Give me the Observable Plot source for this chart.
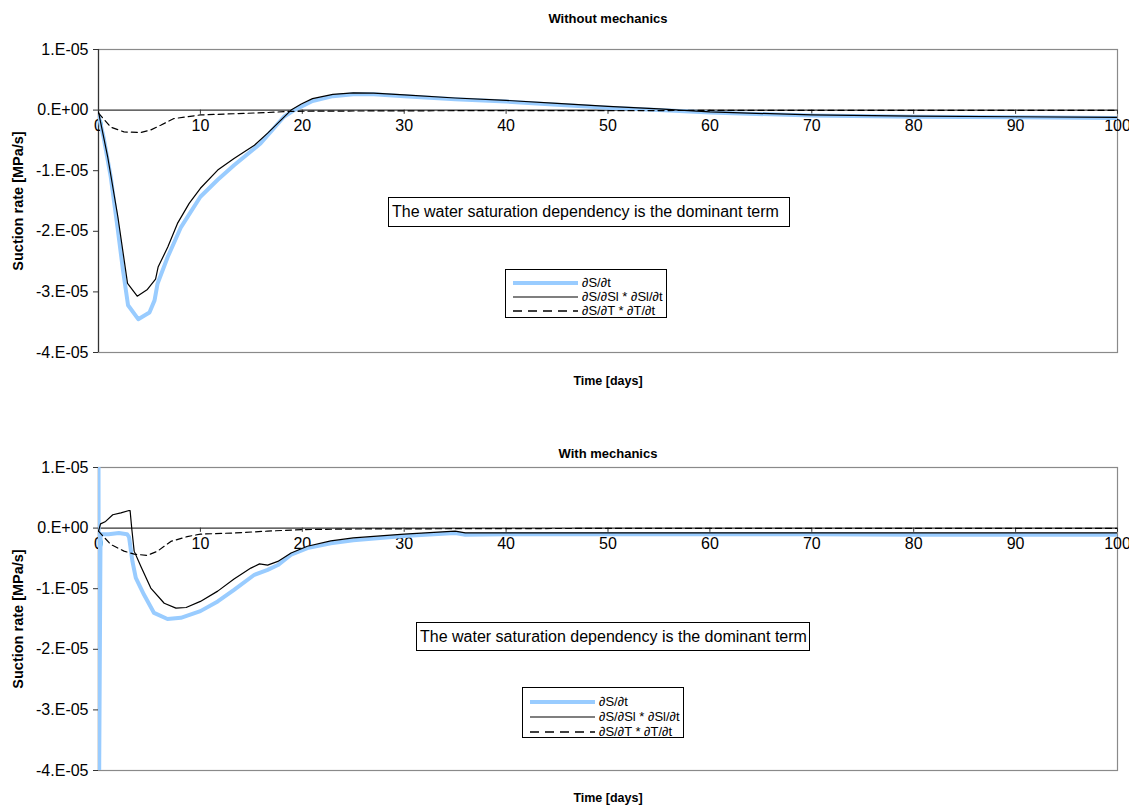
<!DOCTYPE html>
<html>
<head>
<meta charset="utf-8">
<script src="https://cdn.jsdelivr.net/npm/d3@7"></script>
<script src="https://cdn.jsdelivr.net/npm/@observablehq/plot@0.6"></script>
<style>
  html, body { margin: 0; padding: 0; background: #fff; overflow: hidden; }
  #wrap { position: relative; width: 1129px; height: 807px; overflow: hidden; font-family: "Liberation Sans", Arial, sans-serif; }
  #wrap svg { display: block; }
  .note { position: absolute; box-sizing: border-box; border: 1px solid #000; background: #fff;
          font-size: 16px; line-height: 18px; padding: 5px 0 0 3px; white-space: nowrap; }
  .legend { position: absolute; box-sizing: border-box; border: 1px solid #000; background: #fff;
            font-size: 13px; padding: 6px 0 0 6px; }
  .legend div { line-height: 14px; display: flex; align-items: center; white-space: nowrap; }
  .legend svg { display: inline-block; margin-right: 4px; }
</style>
</head>
<body>
<div id="wrap"></div>
<script>
// Suction rate terms, in units of 1E-05 MPa/s, against time in days.

// --- Without mechanics ---
const topDays_dSdt = [0, 0.5, 1.2, 1.9, 2.4, 2.9, 3.9, 5.0, 5.5, 5.8, 6.8, 8.1, 10, 11.7, 13.3, 15.9, 18.2, 19.2, 21, 23, 25, 27, 30, 35, 40, 45, 50, 55, 60, 70, 80, 90, 100];
const topVals_dSdt = [-0.08, -0.45, -1.1, -1.98, -2.64, -3.22, -3.45, -3.34, -3.14, -2.86, -2.42, -1.93, -1.43, -1.15, -0.91, -0.55, -0.11, 0.0, 0.15, 0.23, 0.26, 0.26, 0.23, 0.18, 0.14, 0.09, 0.04, 0.0, -0.04, -0.09, -0.11, -0.12, -0.13];

const topDays_sat = [0, 0.9, 1.9, 2.85, 3.8, 4.8, 5.6, 5.85, 6.8, 7.75, 8.9, 10, 11.7, 13.3, 15.3, 16.6, 17.9, 18.9, 19.9, 21, 23, 25, 27, 30, 35, 40, 45, 50, 55, 60, 70, 80, 90, 100];
const topVals_sat = [-0.03, -0.77, -1.76, -2.86, -3.07, -2.96, -2.79, -2.59, -2.26, -1.87, -1.54, -1.29, -0.99, -0.80, -0.58, -0.38, -0.165, 0.0, 0.1, 0.19, 0.26, 0.285, 0.28, 0.25, 0.2, 0.16, 0.11, 0.06, 0.02, -0.03, -0.08, -0.1, -0.11, -0.12];

const topDays_temp = [0, 1.2, 2.5, 4.15, 5.1, 6.1, 7.4, 10, 13.3, 16.6, 18.9, 25, 35, 50, 60, 80, 100];
const topVals_temp = [-0.05, -0.28, -0.36, -0.37, -0.33, -0.25, -0.14, -0.08, -0.06, -0.04, -0.02, -0.015, -0.01, -0.01, -0.005, -0.005, -0.005];

// --- With mechanics ---
const botDays_dSdt = [0, 0.05, 0.2, 1.0, 2.0, 2.8, 3.0, 3.33, 3.66, 4.47, 5.45, 6.77, 8.08, 10, 11.7, 13.3, 15.3, 16.6, 17.6, 18.9, 20.5, 22.8, 25, 30, 35, 36, 40, 50, 60, 70, 80, 90, 100];
const botVals_dSdt = [1.2, -4.5, -0.1, -0.1, -0.08, -0.1, -0.15, -0.55, -0.82, -1.1, -1.40, -1.50, -1.48, -1.37, -1.21, -1.02, -0.77, -0.69, -0.61, -0.44, -0.33, -0.25, -0.2, -0.13, -0.08, -0.11, -0.1, -0.1, -0.1, -0.1, -0.11, -0.11, -0.11];

const botDays_sat = [0, 0.2, 0.7, 1.4, 2.2, 3.0, 3.1, 3.27, 3.5, 4.15, 5.13, 6.45, 7.6, 8.6, 10, 11.7, 13.3, 14.95, 15.8, 16.6, 17.6, 18.9, 20.5, 22.8, 25, 30, 35, 36, 40, 50, 60, 70, 80, 90, 100];
const botVals_sat = [-0.05, 0.07, 0.11, 0.22, 0.25, 0.29, 0.29, -0.02, -0.38, -0.63, -0.99, -1.24, -1.32, -1.31, -1.21, -1.04, -0.84, -0.66, -0.59, -0.61, -0.55, -0.41, -0.30, -0.21, -0.16, -0.10, -0.05, -0.08, -0.08, -0.08, -0.08, -0.08, -0.08, -0.08, -0.08];

const botDays_temp = [0, 1.2, 2.5, 3.5, 4.8, 5.8, 7.1, 8.7, 10, 13.3, 16.6, 19.9, 25, 35, 50, 100];
const botVals_temp = [-0.05, -0.27, -0.38, -0.43, -0.45, -0.38, -0.22, -0.14, -0.10, -0.08, -0.05, -0.025, -0.015, -0.01, -0.005, -0.005];

// Axis ticks and labels
const xTicks = [0, 10, 20, 30, 40, 50, 60, 70, 80, 90, 100];
const yTicks = [1, 0, -1, -2, -3, -4];
const yTickLabels = ["1.E-05", "0.E+00", "-1.E-05", "-2.E-05", "-3.E-05", "-4.E-05"];

const seriesNames = ["\u2202S/\u2202t", "\u2202S/\u2202Sl * \u2202Sl/\u2202t", "\u2202S/\u2202T * \u2202T/\u2202t"];
const noteText = "The water saturation dependency is the dominant term";
const titles = ["Without mechanics", "With mechanics"];
const xLabel = "Time [days]";
const yLabel = "Suction rate [MPa/s]";

const BLUE = "#99ccff";
const FONT = "'Liberation Sans', Arial, sans-serif";

const pts = (days, vals) => days.map((d, i) => ({day: d, v: vals[i]}));

function panel({title, height, marginTop, marginBottom, titleDy, xLabelDy, dSdt, sat, temp}) {
  return Plot.plot({
    width: 1129,
    height,
    marginLeft: 98,
    marginRight: 12,
    marginTop,
    marginBottom,
    x: {domain: [0, 100], axis: null},
    y: {domain: [-4, 1], axis: null},
    style: {fontFamily: FONT, fontSize: "13px", background: "#fff", overflow: "visible"},
    marks: [
      Plot.frame({stroke: "#8a8a8a", strokeWidth: 1.2}),
      Plot.ruleY([0], {stroke: "#000", strokeWidth: 1}),
      Plot.ruleX([0], {stroke: "#333", strokeWidth: 1.2}),
      Plot.axisY(yTicks, {
        tickFormat: (d) => yTickLabels[yTicks.indexOf(d)],
        tickSize: 5, tickPadding: 5, fontSize: 16, stroke: "#333", label: null
      }),
      // x ticks sit on the zero line
      Plot.ruleX(xTicks, {x: (d) => d, y1: 0, y2: -0.07, stroke: "#333"}),
      Plot.text(xTicks, {x: (d) => d, y: 0, dy: 16, text: (d) => String(d), fontSize: 16}),
      Plot.line(pts(dSdt[0], dSdt[1]), {x: "day", y: "v", stroke: BLUE, strokeWidth: 4, clip: true}),
      Plot.line(pts(sat[0], sat[1]), {x: "day", y: "v", stroke: "#000", strokeWidth: 1.2, clip: true}),
      Plot.line(pts(temp[0], temp[1]), {x: "day", y: "v", stroke: "#000", strokeWidth: 1.2, strokeDasharray: "6,4", clip: true}),
      Plot.text([title], {frameAnchor: "top", dy: titleDy, lineAnchor: "middle", fontWeight: "bold", fontSize: 13}),
      Plot.text([xLabel], {frameAnchor: "bottom", dy: xLabelDy, lineAnchor: "middle", fontWeight: "bold", fontSize: 12.5}),
      Plot.text([yLabel], {frameAnchor: "left", dx: -80, rotate: -90, textAnchor: "middle", lineAnchor: "middle", fontWeight: "bold", fontSize: 14.5})
    ]
  });
}

const wrap = document.getElementById("wrap");

wrap.appendChild(panel({
  title: titles[0], height: 400, marginTop: 49, marginBottom: 48, titleDy: -31, xLabelDy: 28,
  dSdt: [topDays_dSdt, topVals_dSdt], sat: [topDays_sat, topVals_sat], temp: [topDays_temp, topVals_temp]
}));
wrap.appendChild(panel({
  title: titles[1], height: 407, marginTop: 67, marginBottom: 37, titleDy: -14, xLabelDy: 27,
  dSdt: [botDays_dSdt, botVals_dSdt], sat: [botDays_sat, botVals_sat], temp: [botDays_temp, botVals_temp]
}));

// Annotation boxes and legends laid over each panel
function note(left, top, width, height) {
  const d = document.createElement("div");
  d.className = "note";
  Object.assign(d.style, {left: left + "px", top: top + "px", width: width + "px", height: height + "px"});
  d.textContent = noteText;
  wrap.appendChild(d);
}
function legend(left, top, width, height, rowHeight) {
  const d = document.createElement("div");
  d.className = "legend";
  Object.assign(d.style, {left: left + "px", top: top + "px", width: width + "px", height: height + "px"});
  const styles = [
    {stroke: BLUE, width: 4, dash: null},
    {stroke: "#000", width: 1.2, dash: null},
    {stroke: "#000", width: 1.6, dash: "9,6"}
  ];
  seriesNames.forEach((name, i) => {
    const row = document.createElement("div");
    row.style.height = rowHeight + "px";
    const s = styles[i];
    row.innerHTML = `<svg width="66" height="8"><line x1="1" x2="66" y1="4" y2="4" stroke="${s.stroke}" stroke-width="${s.width}"${s.dash ? ` stroke-dasharray="${s.dash}"` : ""}/></svg><span>${name}</span>`;
    d.appendChild(row);
  });
  wrap.appendChild(d);
}

note(388, 197, 402, 30);
legend(505, 269, 162, 49, 14);
note(416, 622, 394, 29);
legend(522, 687, 162, 51, 15);
</script>
</body>
</html>
